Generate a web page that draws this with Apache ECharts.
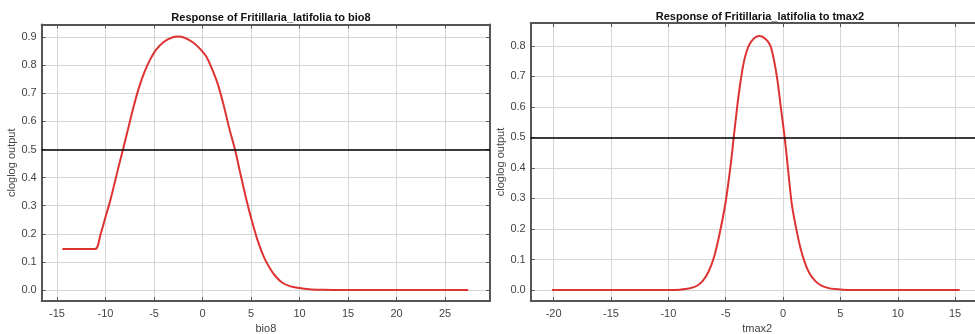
<!DOCTYPE html>
<html><head><meta charset="utf-8">
<script src="https://cdn.jsdelivr.net/npm/echarts@6/dist/echarts.min.js"></script>
<style>html,body{margin:0;padding:0;background:#fff}#c{width:975px;height:334px}</style>
</head><body><div id="c"></div>
<script>
const titles = ['Response of Fritillaria_latifolia to bio8', 'Response of Fritillaria_latifolia to tmax2'];
const xNames = ['bio8', 'tmax2'];
const yName = 'cloglog output';
const threshold = 0.5;

const bio8X = [-14.45, -11.1, -10.5, -10.0, -9.5, -9.0, -8.5, -8.2, -7.7, -7.2, -6.6, -6.0, -5.4, -4.8, -4.0, -3.2, -2.5, -1.8, -1.0, -0.3, 0.4, 1.0, 1.6, 2.2, 2.8, 3.35, 3.9, 4.5, 5.1, 5.7, 6.3, 6.9, 7.5, 8.2, 9.0, 10.0, 11.0, 12.5, 14.0, 27.4];
const bio8Y = [0.146, 0.146, 0.20, 0.26, 0.32, 0.39, 0.46, 0.50, 0.57, 0.64, 0.715, 0.775, 0.82, 0.855, 0.883, 0.898, 0.902, 0.897, 0.882, 0.86, 0.83, 0.785, 0.73, 0.655, 0.57, 0.50, 0.415, 0.325, 0.245, 0.175, 0.12, 0.08, 0.05, 0.027, 0.014, 0.007, 0.003, 0.001, 0.0, 0.0];

const tmax2X = [-20.15, -10.0, -9.0, -8.5, -8.0, -7.5, -7.0, -6.5, -6.0, -5.5, -5.0, -4.6, -4.3, -4.0, -3.7, -3.4, -3.0, -2.5, -2.04, -1.5, -1.1, -0.8, -0.5, -0.2, 0.14, 0.45, 0.75, 1.1, 1.5, 1.9, 2.3, 2.8, 3.3, 3.9, 4.5, 5.2, 6.0, 15.4];
const tmax2Y = [0.0, 0.0, 0.001, 0.003, 0.007, 0.014, 0.03, 0.06, 0.11, 0.19, 0.29, 0.40, 0.50, 0.60, 0.685, 0.75, 0.80, 0.826, 0.832, 0.822, 0.80, 0.755, 0.69, 0.60, 0.50, 0.39, 0.285, 0.21, 0.14, 0.09, 0.055, 0.03, 0.015, 0.007, 0.003, 0.001, 0.0, 0.0];

const FONT = "'Liberation Sans', Arial, sans-serif";
const AX = '#555';
const TXT = '#444';

function zip(xs, ys) { return xs.map((x, i) => [x, ys[i]]); }

function xAx(grid, min, max, split, name, pos) {
  const main = pos === 'bottom';
  return {
    type: 'value', gridIndex: grid, position: pos, min: min, max: max, splitNumber: split,
    name: main ? name : '', nameLocation: 'middle', nameGap: 20,
    nameTextStyle: { color: TXT, fontSize: 11, fontFamily: FONT },
    axisLine: { show: true, onZero: false, lineStyle: { color: AX, width: 2 } },
    axisTick: { show: true, inside: true, length: 4, lineStyle: { color: AX, width: 1 } },
    axisLabel: { show: main, color: TXT, fontSize: 11, fontFamily: FONT, margin: 7, showMinLabel: false, showMaxLabel: false },
    splitLine: { show: main, lineStyle: { color: '#d6d6d6', width: 1 } }
  };
}
function yAx(grid, min, max, split, pos) {
  const main = pos === 'left';
  return {
    type: 'value', gridIndex: grid, position: pos, min: min, max: max, splitNumber: split,
    name: main ? yName : '', nameLocation: 'middle', nameGap: 20,
    nameTextStyle: { color: TXT, fontSize: 11, fontFamily: FONT },
    axisLine: { show: true, onZero: false, lineStyle: { color: AX, width: 2 } },
    axisTick: { show: true, inside: true, length: 4, lineStyle: { color: AX, width: 1 } },
    axisLabel: { show: main, color: TXT, fontSize: 11, fontFamily: FONT, margin: 5, showMinLabel: false, showMaxLabel: false,
      formatter: v => v.toFixed(1) },
    splitLine: { show: main, lineStyle: { color: '#d6d6d6', width: 1 } }
  };
}
function lineSeries(xi, yi, data) {
  return {
    type: 'line', xAxisIndex: xi, yAxisIndex: yi, data: data, showSymbol: false, symbol: 'none',
    smooth: 0.3,
    lineStyle: { color: '#dd3333', width: 2 }, z: 3,
    markLine: { silent: true, symbol: 'none', label: { show: false }, animation: false,
      lineStyle: { color: '#000', width: 1.5, type: 'solid' }, data: [{ yAxis: threshold }] }
  };
}

const chart = echarts.init(document.getElementById('c'), null, { renderer: 'canvas' });
chart.setOption({
  animation: false,
  backgroundColor: '#fff',
  textStyle: { fontFamily: FONT },
  title: [
    { text: titles[0], left: 266, top: 7, textAlign: 'center', textStyle: { fontSize: 11, fontWeight: 'bold', color: '#111', fontFamily: FONT } },
    { text: titles[1], left: 755, top: 6, textAlign: 'center', textStyle: { fontSize: 11, fontWeight: 'bold', color: '#111', fontFamily: FONT } }
  ],
  grid: [
    { left: 41.7, right: 485, top: 24.5, bottom: 33, outerBoundsMode: 'none', containLabel: false },
    { left: 530.7, right: -8.8, top: 23, bottom: 33, outerBoundsMode: 'none', containLabel: false }
  ],
  xAxis: [
    xAx(0, -16.58, 29.64, 9, xNames[0], 'bottom'),
    xAx(0, -16.58, 29.64, 9, xNames[0], 'top'),
    xAx(1, -22, 17.5, 8, xNames[1], 'bottom'),
    xAx(1, -22, 17.5, 8, xNames[1], 'top')
  ],
  yAxis: [
    yAx(0, -0.039, 0.945, 10, 'left'),
    yAx(0, -0.039, 0.945, 10, 'right'),
    yAx(1, -0.036, 0.875, 9, 'left'),
    yAx(1, -0.036, 0.875, 9, 'right')
  ],
  series: [
    lineSeries(0, 0, zip(bio8X, bio8Y)),
    lineSeries(2, 2, zip(tmax2X, tmax2Y))
  ]
});
</script>
</body></html>
